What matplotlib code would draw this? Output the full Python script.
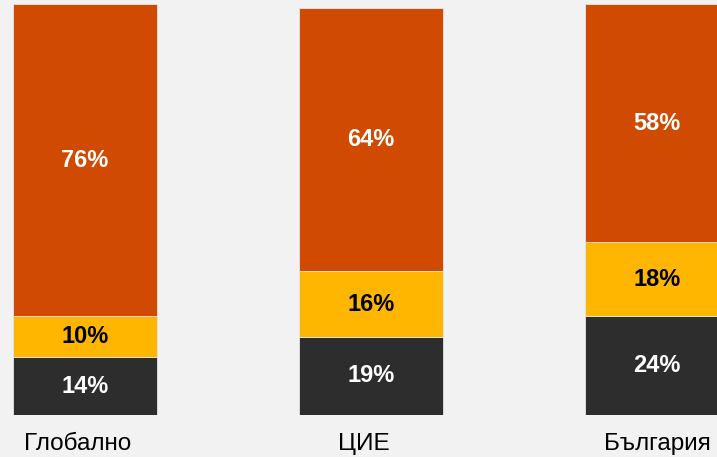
import matplotlib.pyplot as plt
import numpy as np

plt.rcParams['font.family'] = ['Liberation Sans', 'DejaVu Sans']

categories = ["Глобално", "ЦИЕ", "България"]
dark_vals = [14, 19, 24]
yellow_vals = [10, 16, 18]
orange_vals = [76, 64, 58]

bg = '#f2f2f2'
colours = ['#2d2d2d', '#ffb600', '#d04a02']
text_colours = ['white', 'black', 'white']
label_shift_px = [-7, -7, 0]

fig = plt.figure(figsize=(7.17, 4.57), dpi=100, facecolor=bg)
ax = fig.add_axes([0, 42 / 457, 1, 415 / 457])
ax.set_facecolor(bg)

x = np.arange(len(categories))
bottom = np.zeros(len(categories))
for vals, col, tcol in zip([dark_vals, yellow_vals, orange_vals], colours, text_colours):
    vals = np.array(vals, dtype=float)
    ax.bar(x, vals, width=0.503, bottom=bottom, color=col,
           edgecolor='#e6e6e6', linewidth=0.6)
    for xi, b, v in zip(x, bottom, vals):
        ax.text(xi, b + v / 2, f"{int(v)}%", ha='center', va='center',
                color=tcol, fontsize=17, fontweight='bold')
    bottom += vals

ax.set_xlim(-85 / 286, (717 - 85) / 286)
ax.set_ylim(0, 101.0)
ax.axis('off')

for xi, cat, sh in zip(x, categories, label_shift_px):
    ax.text(xi + sh / 286, -29 / 4.1, cat, ha='center', va='center', fontsize=17.5,
            color='black', clip_on=False)

fig.savefig('out.png', dpi=100, facecolor=bg)
